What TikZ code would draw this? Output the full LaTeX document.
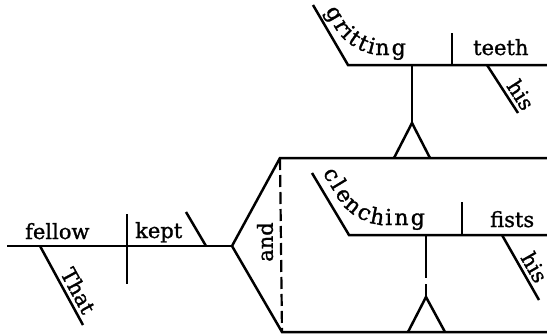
\documentclass[tikz,border=0pt]{standalone}
\usepackage{fontspec}
\usetikzlibrary{decorations.text}
\newfontfamily\dvserif[FakeBold=1.2]{DejaVu Serif}
\newcommand\wordfont{\dvserif\fontsize{21}{24}\selectfont}
\newcommand\gerundfont{\dvserif\fontsize{22}{25}\selectfont}
\begin{document}
\begin{tikzpicture}[x=1pt,y=-1pt]
\tikzset{
  ln/.style={line width=2.5pt},
  dashln/.style={line width=2.2pt, dash pattern=on 12pt off 5pt},
  word/.style={font=\wordfont, inner sep=0pt},
  modword/.style={font=\wordfont, inner sep=3pt, sloped, above},
  curveword/.style={rounded corners=30pt, decorate,
     decoration={text effects along path, text={#1},
       text effects/.cd, text along path,
       character widths={font=\gerundfont, inner xsep=1.1pt, inner ysep=0pt},
       characters={font=\gerundfont, inner sep=0pt}}}
}
\useasboundingbox (0,0) rectangle (547,335);
\clip (0,0) rectangle (547,335);

% ---- main clause
\coordinate (L) at (7,246);
\coordinate (F) at (232,246);
\coordinate (d1t) at (127,214);
\coordinate (d1b) at (127,284);
\coordinate (s1t) at (186,212);
\coordinate (s1b) at (206,246);
\coordinate (th1) at (40,246);
\coordinate (th2) at (83,325);
\coordinate (UC) at (280,158);
\coordinate (LC) at (282,332);
\coordinate (UR) at (550,158);
\coordinate (LR) at (550,332);

\draw[ln] (L) -- (F);
\draw[ln] (d1t) -- (d1b);
\draw[ln] (s1t) -- (s1b);
\draw[ln] (th1) -- node[modword, pos=0.64] (that) {That} (th2);
\draw[ln] (F) -- (UC) -- (UR);
\draw[ln] (F) -- (LC) -- (LR);
\draw[dashln] (UC) -- (LC);

\node[word, anchor=base west] (fellow) at (25,239) {fellow};
\node[word, anchor=base west] (kept) at (135,238) {kept};
\node[word, rotate=90] (and) at (265,242) {and};

% ---- upper gerund
\coordinate (gs1) at (313,5);
\coordinate (gs2) at (348,65);
\coordinate (gr) at (550,65);
\coordinate (gd1) at (452,33);
\coordinate (gd2) at (452,65);
\coordinate (gh1) at (487,65);
\coordinate (gh2) at (518,113);
\coordinate (gst) at (412,65);
\coordinate (gap) at (412,123);
\coordinate (gbl) at (394,158);
\coordinate (gbr) at (430,158);
\coordinate (gt1) at (324.5,10);
\coordinate (gt2) at (351,55);
\coordinate (gt3) at (440,55);

\draw[ln] (gs1) -- (gs2) -- (gr);
\draw[ln] (gd1) -- (gd2);
\draw[ln] (gh1) -- node[modword, pos=0.76] (his1) {his} (gh2);
\draw[ln] (gst) -- (gap);
\draw[ln] (gbl) -- (gap) -- (gbr);
\path[curveword=gritting] (gt1) -- (gt2) -- (gt3);
\node[word, anchor=base west] (teeth) at (473,55) {teeth};

% ---- lower gerund
\coordinate (cs1) at (312,173);
\coordinate (cs2) at (349,235);
\coordinate (cr) at (550,235);
\coordinate (cd1) at (462,202);
\coordinate (cd2) at (462,235);
\coordinate (ch1) at (502,235);
\coordinate (ch2) at (539,300);
\coordinate (cst) at (426,235);
\coordinate (cg1) at (426,278);
\coordinate (cg2) at (426,284);
\coordinate (cap) at (426,297);
\coordinate (cbl) at (408,332);
\coordinate (cbr) at (445,332);
\coordinate (ct1) at (322,172);
\coordinate (ct2) at (354,225);
\coordinate (ct3) at (450,225);

\draw[ln] (cs1) -- (cs2) -- (cr);
\draw[ln] (cd1) -- (cd2);
\draw[ln] (ch1) -- node[modword, pos=0.59] (his2) {his} (ch2);
\draw[ln] (cst) -- (cg1);
\draw[ln] (cg2) -- (cap);
\draw[ln] (cbl) -- (cap) -- (cbr);
\path[curveword=clenching] (ct1) -- (ct2) -- (ct3);
\node[word, anchor=base west] (fists) at (490,227) {fists};
\end{tikzpicture}
\end{document}
